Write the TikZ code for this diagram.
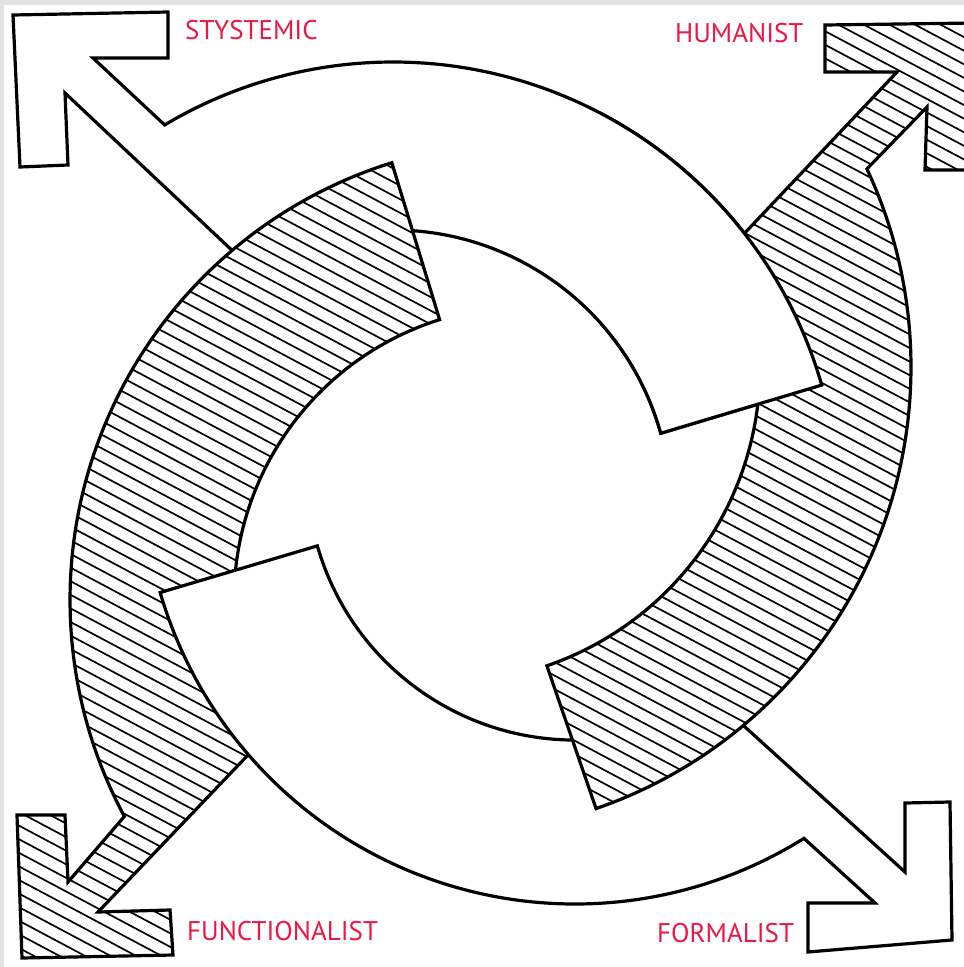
\documentclass[tikz,border=0pt]{standalone}
\usepackage{fontspec}
\setmainfont{PT Sans}
\usetikzlibrary{calc}
\definecolor{labred}{RGB}{234,24,68}
\definecolor{edgegray}{RGB}{226,226,226}
\newcommand\HatchLines{%
  \foreach \k in {-42,...,74} {%
    \draw[hatchline] ({-0.4695*\k*12-1500},{0.8829*\k*12-798}) -- ({-0.4695*\k*12+1500},{0.8829*\k*12+798});
  }}
\begin{document}
\begin{tikzpicture}[x=1pt,y=-1pt,
  outline/.style={line width=3.2pt, line join=miter, miter limit=6, black},
  hatchline/.style={line width=1.7pt, black},
  lab/.style={text=labred, font=\fontsize{27}{30}\selectfont, inner sep=0pt}]
\useasboundingbox (0,0) rectangle (964,967);
\clip (0,0) rectangle (964,967);
\fill[white] (0,0) rectangle (964,967);
\fill[edgegray] (0,0) rectangle (964,5);
\fill[edgegray] (0,0) rectangle (4,967);

\coordinate (Ac) at (393,508);
\coordinate (Bc) at (444,367);
\coordinate (Cc) at (575,472);
\coordinate (Dc) at (528,600);

% white piece, top (to STYSTEMIC)
\def\pathA{(93,58) -- (168,58) -- (168,12) -- (13,15) -- (20,167) -- (68,165) -- (65,93) -- (255,272)
  -- ($(Ac)+(-95:278)$) arc[start angle=-95, end angle=-15.6, radius=278]
  -- ($(Ac)+(-16:446)$) arc[start angle=-16, end angle=-120.8, radius=446] -- cycle}
% hatched piece, right (to HUMANIST)
\def\pathB{(897,72) -- (825,72) -- (825,25) -- (974,23) -- (974,170) -- (925,170) -- (927,107)
  -- ($(Bc)+(-25.1:467)$) arc[start angle=-25.1, end angle=71, radius=467]
  -- ($(Bc)+(71:316)$) arc[start angle=71, end angle=-5, radius=316] -- (724,255) -- cycle}
% white piece, bottom (to FORMALIST)
\def\pathC{(905,872) -- (905,803) -- (950,802) -- (952,940) -- (808,952) -- (808,903) -- (875,903)
  -- ($(Cc)+(58:432)$) arc[start angle=58, end angle=163.8, radius=432]
  -- ($(Cc)+(164:268)$) arc[start angle=164, end angle=80, radius=268] -- (723,707) -- cycle}
% hatched piece, left (to FUNCTIONALIST)
\def\pathD{(68,882) -- (65,815) -- (17,815) -- (22,958) -- (173,955) -- (170,910) -- (98,912) -- (269,733)
  -- ($(Dc)+(175:294)$) arc[start angle=175, end angle=252.5, radius=294]
  -- ($(Dc)+(252.7:458)$) arc[start angle=252.7, end angle=151.8, radius=458] -- cycle}

% A
\fill[white] \pathA;
\draw[outline] \pathA;
% D over A
\fill[white] \pathD;
\begin{scope}\clip \pathD; \HatchLines \end{scope}
\draw[outline] \pathD;
% C over D
\fill[white] \pathC;
\draw[outline] \pathC;
% B over C
\fill[white] \pathB;
\begin{scope}\clip \pathB; \HatchLines \end{scope}
\draw[outline] \pathB;
% A over B (near its flat end)
\begin{scope}
  \clip (600,0) rectangle (964,470);
  \fill[white] \pathA;
  \draw[outline] \pathA;
\end{scope}

\node[lab, anchor=base west] (sys) at (185,39) {STYSTEMIC};
\node[lab, anchor=base west] (hum) at (675,42) {HUMANIST};
\node[lab, anchor=base west] (fun) at (187,940) {FUNCTIONALIST};
\node[lab, anchor=base west] (frm) at (657,942) {FORMALIST};
\end{tikzpicture}
\end{document}
